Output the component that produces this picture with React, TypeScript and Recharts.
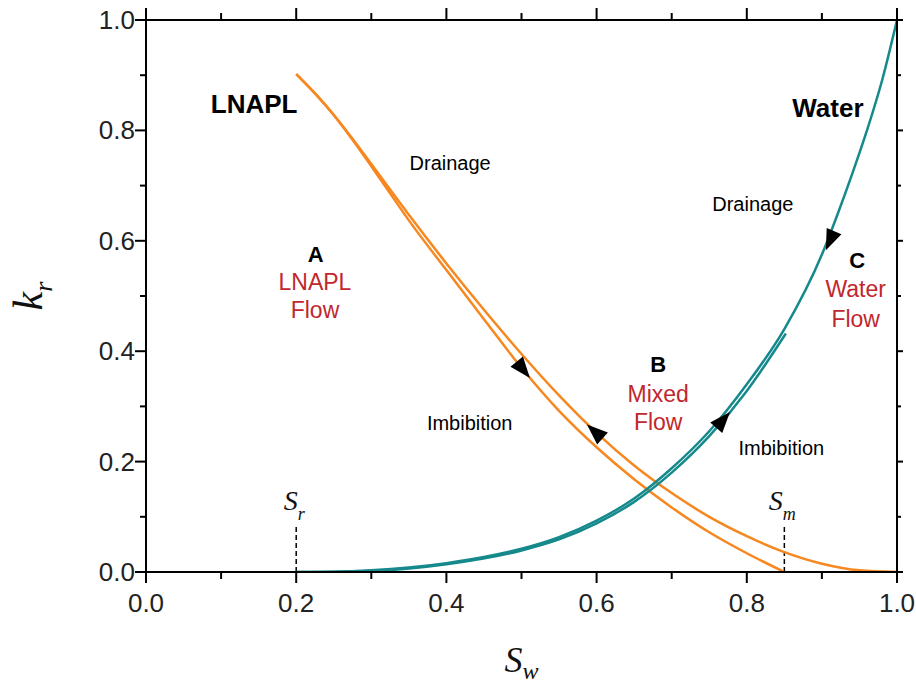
import React from "react";
import {
  ComposedChart,
  Line,
  ReferenceDot,
  ReferenceLine,
  XAxis,
  YAxis,
} from "recharts";

const ORANGE = "#f7871f";
const TEAL = "#15898b";
const RED = "#c1272d";
const SANS = "'Liberation Sans', Arial, sans-serif";
const SERIF = "'Liberation Serif', 'Times New Roman', serif";

const TICKS = [0, 0.1, 0.2, 0.3, 0.4, 0.5, 0.6, 0.7, 0.8, 0.9, 1.0];

// LNAPL curve that runs all the way to Sw = 1
const lnaplToOne = [
  { x: 0.2, y: 0.902 },
  { x: 0.225, y: 0.867 },
  { x: 0.25, y: 0.828 },
  { x: 0.275, y: 0.785 },
  { x: 0.3, y: 0.739 },
  { x: 0.35, y: 0.647 },
  { x: 0.4, y: 0.559 },
  { x: 0.45, y: 0.475 },
  { x: 0.5, y: 0.395 },
  { x: 0.55, y: 0.32 },
  { x: 0.6, y: 0.252 },
  { x: 0.65, y: 0.193 },
  { x: 0.7, y: 0.143 },
  { x: 0.75, y: 0.1 },
  { x: 0.8, y: 0.065 },
  { x: 0.85, y: 0.036 },
  { x: 0.9, y: 0.015 },
  { x: 0.95, y: 0.003 },
  { x: 1.0, y: 0 },
];

// LNAPL curve that stops at Sm
const lnaplToSm = [
  { x: 0.2, y: 0.902 },
  { x: 0.225, y: 0.867 },
  { x: 0.25, y: 0.828 },
  { x: 0.275, y: 0.783 },
  { x: 0.3, y: 0.735 },
  { x: 0.325, y: 0.686 },
  { x: 0.35, y: 0.637 },
  { x: 0.4, y: 0.547 },
  { x: 0.45, y: 0.458 },
  { x: 0.5, y: 0.37 },
  { x: 0.55, y: 0.292 },
  { x: 0.6, y: 0.226 },
  { x: 0.65, y: 0.168 },
  { x: 0.7, y: 0.117 },
  { x: 0.75, y: 0.072 },
  { x: 0.8, y: 0.034 },
  { x: 0.85, y: 0 },
];

const waterDrainage = [
  { x: 0.2, y: 0 },
  { x: 0.25, y: 0.0005 },
  { x: 0.3, y: 0.003 },
  { x: 0.35, y: 0.008 },
  { x: 0.4, y: 0.016 },
  { x: 0.45, y: 0.027 },
  { x: 0.5, y: 0.042 },
  { x: 0.55, y: 0.063 },
  { x: 0.6, y: 0.093 },
  { x: 0.65, y: 0.133 },
  { x: 0.7, y: 0.188 },
  { x: 0.75, y: 0.255 },
  { x: 0.8, y: 0.34 },
  { x: 0.85, y: 0.44 },
  { x: 0.9, y: 0.575 },
  { x: 0.92, y: 0.645 },
  { x: 0.94, y: 0.72 },
  { x: 0.96, y: 0.8 },
  { x: 0.98, y: 0.89 },
  { x: 1.0, y: 1.0 },
];

const waterImbibition = [
  { x: 0.2, y: 0 },
  { x: 0.3, y: 0.002 },
  { x: 0.4, y: 0.014 },
  { x: 0.5, y: 0.039 },
  { x: 0.55, y: 0.059 },
  { x: 0.6, y: 0.088 },
  { x: 0.65, y: 0.127 },
  { x: 0.7, y: 0.18 },
  { x: 0.75, y: 0.246 },
  { x: 0.8, y: 0.328 },
  { x: 0.852, y: 0.432 },
];

// direction arrows on the curves (angle = screen heading in degrees)
const ARROWS = [
  { x: 0.502, y: 0.367, angle: 51 },
  { x: 0.598, y: 0.254, angle: 222 },
  { x: 0.911, y: 0.601, angle: 113 },
  { x: 0.768, y: 0.275, angle: -49 },
];

const NOTES = [
  { text: "LNAPL", x: 0.144, y: 0.832, kind: "title" },
  { text: "Water", x: 0.908, y: 0.824, kind: "title" },
  { text: "Drainage", x: 0.405, y: 0.728, kind: "plain" },
  { text: "Drainage", x: 0.808, y: 0.654, kind: "plain" },
  { text: "Imbibition", x: 0.431, y: 0.257, kind: "plain" },
  { text: "Imbibition", x: 0.846, y: 0.212, kind: "plain" },
  { text: "A", x: 0.226, y: 0.562, kind: "zone" },
  { text: "LNAPL", x: 0.225, y: 0.511, kind: "red" },
  { text: "Flow", x: 0.225, y: 0.46, kind: "red" },
  { text: "B", x: 0.682, y: 0.362, kind: "zone" },
  { text: "Mixed", x: 0.682, y: 0.308, kind: "red" },
  { text: "Flow", x: 0.682, y: 0.257, kind: "red" },
  { text: "C", x: 0.947, y: 0.551, kind: "zone" },
  { text: "Water", x: 0.945, y: 0.498, kind: "red" },
  { text: "Flow", x: 0.945, y: 0.444, kind: "red" },
];

const SATURATIONS = [
  { x: 0.2, sub: "r" },
  { x: 0.85, sub: "m" },
];

const NOTE_STYLE: Record<string, React.SVGProps<SVGTextElement>> = {
  title: { fontSize: 26, fontWeight: 700, fill: "#000" },
  zone: { fontSize: 22, fontWeight: 700, fill: "#000" },
  red: { fontSize: 23, fill: RED },
  plain: { fontSize: 20, fill: "#000" },
};

function AxisTick(props: any) {
  const { x, y, payload, side } = props;
  const v = payload.value;
  const major = Math.round(v * 10) % 2 === 0;
  const label = v.toFixed(1);
  if (side === "bottom") {
    const len = major ? 11 : 7;
    return (
      <g>
        <line x1={x} x2={x} y1={y} y2={y + len} stroke="#000" strokeWidth={2} />
        {major && (
          <text x={x} y={y + 40} textAnchor="middle" fontFamily={SANS} fontSize={26} fill="#222">
            {label}
          </text>
        )}
      </g>
    );
  }
  if (side === "left") {
    const len = major ? 11 : 6;
    return (
      <g>
        <line x1={x - len} x2={x} y1={y} y2={y} stroke="#000" strokeWidth={2} />
        {major && (
          <text x={x - 11} y={y + 9} textAnchor="end" fontFamily={SANS} fontSize={26} fill="#222">
            {label}
          </text>
        )}
      </g>
    );
  }
  if (side === "top") {
    const len = major ? 12 : 7;
    return <line x1={x} x2={x} y1={y} y2={y - len} stroke="#000" strokeWidth={2} />;
  }
  const len = major ? 6 : 4;
  return <line x1={x} x2={x + len} y1={y} y2={y} stroke="#000" strokeWidth={2} />;
}

function ArrowHead(props: any) {
  const { cx, cy, angle } = props;
  return (
    <polygon
      points="11,0 -10,-8 -10,8"
      transform={`translate(${cx},${cy}) rotate(${angle})`}
      fill="#000"
    />
  );
}

function Note(props: any) {
  const { cx, cy, text, kind } = props;
  return (
    <text x={cx} y={cy} textAnchor="middle" fontFamily={SANS} {...NOTE_STYLE[kind]}>
      {text}
    </text>
  );
}

function SatLabel(props: any) {
  const { cx, cy, sub } = props;
  return (
    <text x={cx - 2} y={cy} textAnchor="middle" fontFamily={SERIF} fontStyle="italic" fontSize={28} fill="#111">
      <tspan>S</tspan>
      <tspan fontSize={18} dy={10}>
        {sub}
      </tspan>
    </text>
  );
}

function XTitle(props: any) {
  const { x, y, width } = props.viewBox;
  return (
    <text x={x + width / 2} y={y + 100} textAnchor="middle" fontFamily={SERIF} fontStyle="italic" fontSize={36} fill="#111">
      <tspan>S</tspan>
      <tspan fontSize={24} dy={7}>
        w
      </tspan>
    </text>
  );
}

function YTitle(props: any) {
  const { x, y, height } = props.viewBox;
  const cx = x - 4;
  const cy = y + height / 2;
  return (
    <text
      x={cx}
      y={cy}
      transform={`rotate(-90, ${cx}, ${cy})`}
      textAnchor="middle"
      fontFamily={SERIF}
      fontStyle="italic"
      fontSize={42}
      fill="#111"
    >
      <tspan>k</tspan>
      <tspan fontSize={26} dy={10}>
        r
      </tspan>
    </text>
  );
}

export default function App() {
  return (
    <div style={{ position: "absolute", left: 0, top: 0, background: "#fff" }}>
      <ComposedChart
        width={916}
        height={686}
        margin={{ top: 8, right: 7, bottom: 54, left: 46 }}
      >
        <XAxis
          dataKey="x"
          type="number"
          domain={[0, 1]}
          ticks={TICKS}
          allowDataOverflow
          height={60}
          axisLine={{ stroke: "#000", strokeWidth: 2 }}
          tickLine={false}
          tickSize={0}
          tickMargin={0}
          interval={0}
          tick={(p: any) => <AxisTick {...p} side="bottom" />}
          label={{ content: (p: any) => <XTitle {...p} /> }}
        />
        <XAxis
          xAxisId="top"
          orientation="top"
          dataKey="x"
          type="number"
          domain={[0, 1]}
          ticks={TICKS}
          allowDataOverflow
          height={12}
          axisLine={{ stroke: "#000", strokeWidth: 2 }}
          tickLine={false}
          tickSize={0}
          tickMargin={0}
          interval={0}
          tick={(p: any) => <AxisTick {...p} side="top" />}
        />
        <YAxis
          type="number"
          domain={[0, 1]}
          ticks={TICKS}
          allowDataOverflow
          width={100}
          axisLine={{ stroke: "#000", strokeWidth: 2 }}
          tickLine={false}
          tickSize={0}
          tickMargin={0}
          interval={0}
          tick={(p: any) => <AxisTick {...p} side="left" />}
          label={{ content: (p: any) => <YTitle {...p} /> }}
        />
        <YAxis
          yAxisId="right"
          orientation="right"
          type="number"
          domain={[0, 1]}
          ticks={TICKS}
          allowDataOverflow
          width={12}
          axisLine={{ stroke: "#000", strokeWidth: 2 }}
          tickLine={false}
          tickSize={0}
          tickMargin={0}
          interval={0}
          tick={(p: any) => <AxisTick {...p} side="right" />}
        />

        {SATURATIONS.map((s) => (
          <ReferenceLine
            key={`sl-${s.sub}`}
            segment={[
              { x: s.x, y: 0 },
              { x: s.x, y: 0.082 },
            ]}
            stroke="#000"
            strokeWidth={1.5}
            strokeDasharray="5 3"
          />
        ))}

        <Line data={lnaplToOne} dataKey="y" type="monotone" stroke={ORANGE} strokeWidth={2.5} dot={false} isAnimationActive={false} />
        <Line data={lnaplToSm} dataKey="y" type="monotone" stroke={ORANGE} strokeWidth={2.5} dot={false} isAnimationActive={false} />
        <Line data={waterImbibition} dataKey="y" type="monotone" stroke={TEAL} strokeWidth={2.5} dot={false} isAnimationActive={false} />
        <Line data={waterDrainage} dataKey="y" type="monotone" stroke={TEAL} strokeWidth={2.5} dot={false} isAnimationActive={false} />

        {ARROWS.map((a, i) => (
          <ReferenceDot
            key={`arrow-${i}`}
            x={a.x}
            y={a.y}
            shape={(p: any) => <ArrowHead {...p} angle={a.angle} />}
          />
        ))}

        {NOTES.map((n, i) => (
          <ReferenceDot
            key={`note-${i}`}
            x={n.x}
            y={n.y}
            shape={(p: any) => <Note {...p} text={n.text} kind={n.kind} />}
          />
        ))}

        {SATURATIONS.map((s) => (
          <ReferenceDot
            key={`sat-${s.sub}`}
            x={s.x}
            y={0.112}
            shape={(p: any) => <SatLabel {...p} sub={s.sub} />}
          />
        ))}
      </ComposedChart>
    </div>
  );
}
